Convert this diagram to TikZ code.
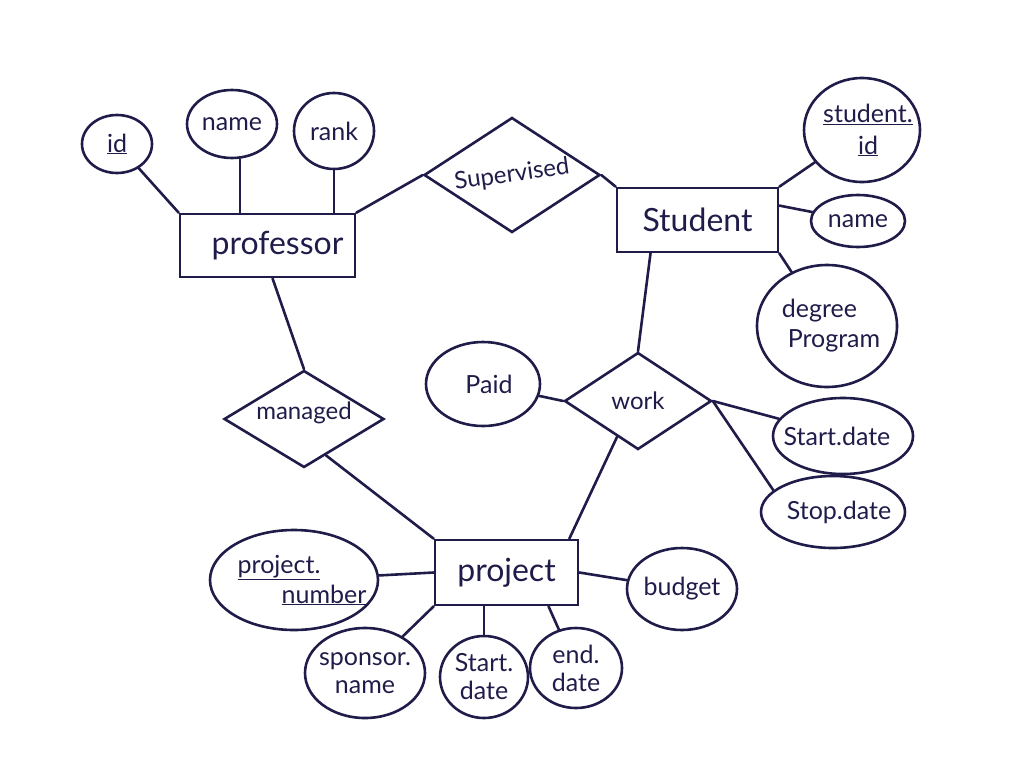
\documentclass[tikz,border=0pt]{standalone}
\usepackage{fontspec}
\setmainfont{Lato}
\usetikzlibrary{shapes.geometric,calc}
\definecolor{ink}{RGB}{32,28,74}
\begin{document}
\begin{tikzpicture}[x=1pt,y=-1pt,
  conn/.style={draw=ink,line width=2.6pt,line cap=round},
  base/.style={draw=ink,line width=2.6pt,inner sep=0pt},
  attr/.style={base,ellipse},
  ent/.style={base,rectangle},
  rel/.style={base,diamond},
  la/.style={text=ink,inner sep=0pt,align=center,font=\fontsize{25}{28}\selectfont},
  le/.style={text=ink,inner sep=0pt,font=\fontsize{32}{35}\selectfont},
  lr/.style={text=ink,inner sep=0pt,font=\fontsize{24}{27}\selectfont}]
\useasboundingbox (0,0) rectangle (1024,768);
% professor side
\node[attr,minimum width=70pt,minimum height=58pt,label={[la]center:\underline{id}}] (id) at (117,144) {};
\node[attr,minimum width=90pt,minimum height=68pt,label={[la]center:name}] (pn) at (232,124) {};
\node[attr,minimum width=80pt,minimum height=76pt,label={[la]center:rank}] (rk) at (334,131) {};
\node[ent,minimum width=175pt,minimum height=63pt,label={[le,xshift=10pt]center:professor}] (prof) at (267.5,245.5) {};
\node[rel,minimum width=176pt,minimum height=115pt,label={[lr,rotate=8]center:Supervised}] (sup) at (512,175) {};
% student side
\node[ent,minimum width=161pt,minimum height=64pt,label={[le]center:Student}] (stu) at (697.5,220) {};
\node[attr,minimum width=116pt,minimum height=104pt,label={[la,xshift=6pt]center:{\underline{student.}\\[4pt]\underline{id}}}] (sid) at (862,130) {};
\node[attr,minimum width=94pt,minimum height=52pt,label={[la]center:name}] (snm) at (858,221) {};
\node[attr,minimum width=140pt,minimum height=122pt,label={[la,align=left,xshift=4pt]center:{degree\\[2pt]\hspace*{6pt}Program}}] (deg) at (827,326) {};
% work
\node[rel,minimum width=147pt,minimum height=97pt,label={[lr]center:work}] (wrk) at (638,401) {};
\node[attr,minimum width=114pt,minimum height=84pt,label={[la,xshift=6pt]center:Paid}] (paid) at (483,384) {};
\node[attr,minimum width=140pt,minimum height=76pt,label={[la,xshift=-6pt]center:Start.date}] (sst) at (843,436) {};
\node[attr,minimum width=144pt,minimum height=72pt,label={[la,xshift=6pt]center:Stop.date}] (stp) at (833,512) {};
% managed / project
\node[rel,minimum width=160pt,minimum height=97pt,label={[lr,yshift=6pt]center:managed}] (mgd) at (304,419) {};
\node[ent,minimum width=143pt,minimum height=65pt,label={[le]center:project}] (prj) at (506.5,572.5) {};
\node[attr,minimum width=168pt,minimum height=100pt,label={[la,align=left,xshift=8pt]center:{\underline{project.}\\[2pt]\hspace*{44pt}\underline{number}}}] (pnum) at (294,580) {};
\node[attr,minimum width=110pt,minimum height=82pt,label={[la]center:budget}] (bud) at (682,589) {};
\node[attr,minimum width=120pt,minimum height=90pt,label={[la]center:{sponsor.\\name}}] (spn) at (365,673) {};
\node[attr,minimum width=88pt,minimum height=82pt,label={[la]center:{Start.\\date}}] (sd) at (484,677) {};
\node[attr,minimum width=92pt,minimum height=80pt,label={[la]center:{end.\\date}}] (ed) at (576,668) {};
% connectors
\draw[conn] (id) -- (prof.north west);
\draw[conn] ([xshift=8pt]pn.south) -- ([xshift=8pt]pn.south |- prof.north);
\draw[conn] (rk.south) -- (rk.south |- prof.north);
\draw[conn] (prof.north east) -- (sup.west);
\draw[conn] (sup.east) -- (stu.north west);
\draw[conn] (stu.north east) -- (sid);
\draw[conn] (stu.10) -- (snm);
\draw[conn] (stu.south east) -- (deg);
\draw[conn] ([xshift=-47pt]stu.south) -- (wrk.north);
\draw[conn] (wrk.west) -- (paid);
\draw[conn] (wrk.east) -- (sst);
\draw[conn] (wrk.east) -- (stp.160);
\draw[conn] ($(wrk.west)!0.72!(wrk.south)$) -- ([xshift=-10pt]prj.north east);
\draw[conn] ([xshift=5pt]prof.south) -- (mgd.north);
\draw[conn] ($(mgd.south)!0.27!(mgd.east)$) -- (prj.north west);
\draw[conn] (prj.west) -- (pnum);
\draw[conn] (prj.east) -- (bud);
\draw[conn] (prj.south west) -- (spn);
\draw[conn] (sd.north |- prj.south) -- (sd.north);
\draw[conn] ([xshift=42pt]prj.south) -- (ed);
\end{tikzpicture}
\end{document}
